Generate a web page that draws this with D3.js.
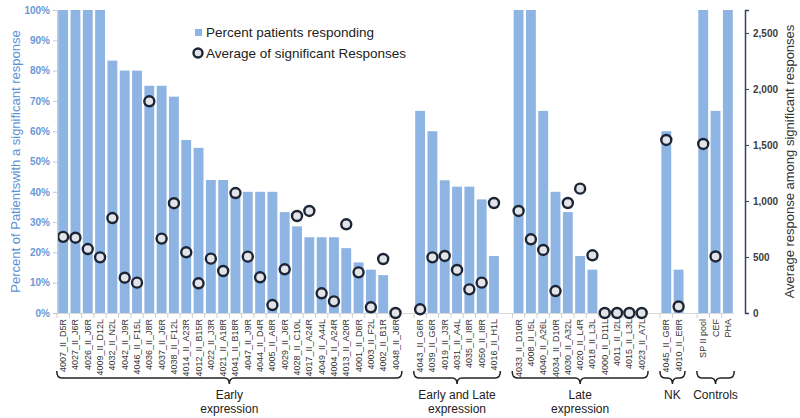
<!DOCTYPE html>
<html><head><meta charset="utf-8">
<script src="https://cdn.jsdelivr.net/npm/d3@7"></script>
<style>body{margin:0;background:#fff} text{font-family:"Liberation Sans",Arial,sans-serif}</style>
</head><body><svg id="c" width="800" height="418"></svg>
<script>
// ---- data ----
const earlyCats = ["4007_II_D5R","4027_II_J6R","4026_II_J6R","4009_II_D12L","4032_II_N2L","4042_II_J9R","4046_II_F15L","4036_II_J8R","4037_II_J6R","4038_II_F12L","4014_II_A23R","4012_II_B15R","4022_II_J3R","4021_II_A18R","4041_II_B18R","4047_II_J9R","4044_II_D4R","4005_II_A8R","4029_II_J6R","4028_II_C10L","4017_II_A24R","4049_II_A44L","4004_II_A24R","4013_II_A20R","4001_II_D6R","4003_II_F2L","4002_II_B1R","4048_II_J6R"];
const earlyPct = [100,100,100,100,83.3,80,80,75,75,71.4,57.1,54.5,43.9,43.9,40,40,40,40,33.3,28.6,25,25,25,21.4,16.7,14.3,12.5,0];
const earlyAvg = [680,672,571,497,848,315,271,1890,664,980,542,265,485,375,1071,503,319,71,390,866,911,176,104,792,363,51,482,0];

const earlyLateCats = ["4043_II_G6R","4039_II_G6R","4019_II_J3R","4031_II_A4L","4035_II_I8R","4050_II_I8R","4016_II_H1L"];
const earlyLatePct = [66.7,60,43.8,41.7,41.7,37.5,18.8];
const earlyLateAvg = [33,497,509,384,211,271,982];

const lateCats = ["4033_II_D10R","4008_II_I5L","4040_II_A26L","4034_II_D10R","4030_II_A32L","4020_II_L4R","4018_II_L3L","4000_II_D11L","4011_II_I2L","4015_II_L3L","4023_II_A7L"];
const latePct = [100,100,66.7,40,33.3,18.8,14.3,0,0,0,0];
const lateAvg = [911,658,563,196,982,1110,515,0,0,0,0];

const nkCats = ["4045_II_G8R","4010_II_E8R"];
const nkPct = [60,14.3];
const nkAvg = [1545,58];

const ctrlCats = ["SP II pool","CEF","PHA"];
const ctrlPct = [100,66.7,100];
const ctrlAvg = [1509,505,null];

const groupLabels = [["Early","expression"],["Early and Late","expression"],["Late","expression"],["NK"],["Controls"]];
const leftTicks = [0,10,20,30,40,50,60,70,80,90,100];
const rightTicks = [0,500,1000,1500,2000,2500];
const legendLabels = ["Percent patients responding","Average of significant Responses"];
const leftTitle = "Percent of Patientswith a significant response";
const rightTitle = "Average response among significant responses";

// ---- build ----
const groups = [
  {cats:earlyCats,pct:earlyPct,avg:earlyAvg},
  {cats:earlyLateCats,pct:earlyLatePct,avg:earlyLateAvg},
  {cats:lateCats,pct:latePct,avg:lateAvg},
  {cats:nkCats,pct:nkPct,avg:nkAvg},
  {cats:ctrlCats,pct:ctrlPct,avg:ctrlAvg}
];
const domain = [];
const rows = [];
groups.forEach((g,gi)=>{
  if(gi>0) domain.push("__gap"+gi);
  g.cats.forEach((c,i)=>{domain.push(c); rows.push({cat:c,pct:g.pct[i],avg:g.avg[i]});});
});

const svg = d3.select("#c");
const pTop=10, pBottom=313, pLeft=57, pRight=734, rAxisX=745;
const x = d3.scaleBand().domain(domain).range([pLeft,pRight]).paddingInner(0.2).paddingOuter(0.1);
const yL = d3.scaleLinear().domain([0,100]).range([pBottom,pTop]);
const yR = d3.scaleLinear().domain([0,2705]).range([pBottom,pTop]);
const barColor = "#8db4e2";

// bars
svg.append("g").selectAll("rect").data(rows).join("rect")
  .attr("x",d=>x(d.cat)).attr("width",x.bandwidth())
  .attr("y",d=>yL(d.pct)).attr("height",d=>pBottom-yL(d.pct))
  .attr("fill",barColor);

// x baseline + ticks
svg.append("line").attr("x1",pLeft).attr("x2",pRight).attr("y1",pBottom+0.5).attr("y2",pBottom+0.5).attr("stroke","#d9d9d9");
const step = x.step();
svg.append("g").selectAll("line").data(rows).join("line")
  .attr("x1",d=>x(d.cat)-step*0.1).attr("x2",d=>x(d.cat)-step*0.1)
  .attr("y1",pBottom).attr("y2",pBottom+5).attr("stroke","#cfcfcf");

// x labels
svg.append("g").selectAll("text").data(rows).join("text")
  .attr("transform",d=>`translate(${x(d.cat)+x.bandwidth()/2+3},${pBottom+6}) rotate(-90)`)
  .attr("text-anchor","end").attr("font-size","9px").attr("fill","#333")
  .text(d=>d.cat);

// circles
svg.append("g").selectAll("circle").data(rows.filter(d=>d.avg!==null)).join("circle")
  .attr("cx",d=>x(d.cat)+x.bandwidth()/2).attr("cy",d=>yR(d.avg)).attr("r",5)
  .attr("fill","#e2e4e8").attr("stroke","#1c2536").attr("stroke-width",2.4);

// left axis
const la = svg.append("g").attr("transform",`translate(${pLeft},0)`)
  .call(d3.axisLeft(yL).tickValues(leftTicks).tickFormat(d=>d+"%").tickSize(4).tickPadding(3));
la.select(".domain").attr("stroke","#b9cde6");
la.selectAll(".tick line").attr("stroke","#b9cde6");
la.selectAll("text").attr("font-size","10px").attr("font-weight","bold").attr("fill","#6b97d6")
  .attr("font-family","'Liberation Sans',Arial,sans-serif");

// right axis
const ra = svg.append("g").attr("transform",`translate(${rAxisX},0)`)
  .call(d3.axisRight(yR).tickValues(rightTicks).tickFormat(d3.format(",")).tickSize(4).tickPadding(4));
ra.select(".domain").attr("stroke","#34406e").attr("stroke-width",1.5);
ra.selectAll(".tick line").attr("stroke","#34406e");
ra.selectAll("text").attr("font-size","10px").attr("font-weight","bold").attr("fill","#404040")
  .attr("font-family","'Liberation Sans',Arial,sans-serif");

// axis titles
svg.append("text").attr("transform",`translate(20,${(pTop+pBottom)/2}) rotate(-90)`)
  .attr("text-anchor","middle").attr("font-size","13px").attr("fill","#5b93d6").text(leftTitle);
svg.append("text").attr("transform",`translate(794,${(pTop+pBottom)/2}) rotate(-90)`)
  .attr("text-anchor","middle").attr("font-size","13px").attr("fill","#333").text(rightTitle);

// legend
svg.append("rect").attr("x",195).attr("y",29).attr("width",7).attr("height",7).attr("fill",barColor);
svg.append("circle").attr("cx",198).attr("cy",53).attr("r",4.5).attr("fill","#e2e4e8").attr("stroke","#1c2536").attr("stroke-width",2.4);
svg.append("text").attr("x",206).attr("y",37).attr("font-size","13.5px").attr("fill","#222").text(legendLabels[0]);
svg.append("text").attr("x",206).attr("y",58).attr("font-size","13.5px").attr("fill","#222").text(legendLabels[1]);

// braces and group labels
function brace(x1,x2,y){
  const m=(x1+x2)/2, r=5;
  return `M${x1},${y-7} Q${x1},${y} ${x1+r},${y} L${m-r},${y} Q${m},${y} ${m},${y+6} Q${m},${y} ${m+r},${y} L${x2-r},${y} Q${x2},${y} ${x2},${y-7}`;
}
groups.forEach((g,gi)=>{
  const x1 = x(g.cats[0]) - step*0.12;
  const x2 = x(g.cats[g.cats.length-1]) + x.bandwidth() + step*0.12;
  svg.append("path").attr("d",brace(x1,x2,378)).attr("fill","none").attr("stroke","#222").attr("stroke-width",1.5);
  const lab = groupLabels[gi];
  lab.forEach((t,li)=>{
    svg.append("text").attr("x",(x1+x2)/2).attr("y",399+li*14).attr("text-anchor","middle")
      .attr("font-size","12px").attr("fill","#222").text(t);
  });
});
</script></body></html>
